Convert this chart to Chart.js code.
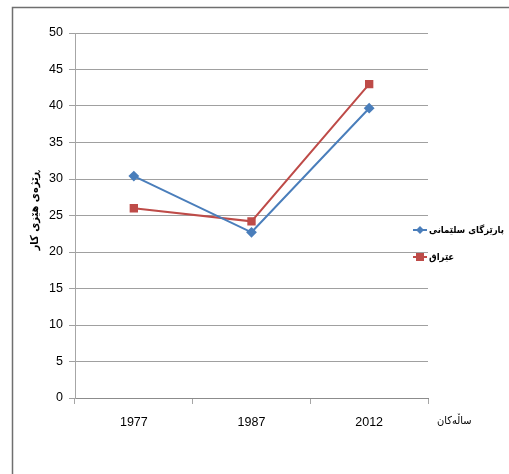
<!DOCTYPE html>
<html>
<head>
<meta charset="utf-8">
<script src="https://cdn.jsdelivr.net/npm/chart.js@4/dist/chart.umd.min.js"></script>
<style>
  html, body { margin: 0; padding: 0; background: #fff; }
  #wrap { width: 509px; height: 474px; }
</style>
</head>
<body>
<div id="wrap"><canvas id="chart"></canvas></div>
<script>
const years = ['1977', '1987', '2012'];
const sulaimaniValues = [30.4, 22.7, 39.7];
const iraqValues = [26.0, 24.2, 43.0];
const seriesNames = ['پارێزگای سلێمانی', 'عێراق'];
const yTitle = 'ڕێژەی هێزی کار';
const xTitle = 'ساڵەکان';

const arabicFont = "'DejaVu Sans Condensed', 'DejaVu Sans', sans-serif";
const tickFont = { family: "'Liberation Sans Narrow', 'Liberation Sans', sans-serif", size: 12.5 };

// frame, axis titles and legend
const extras = {
    id: 'extras',
    afterDraw(chart) {
        const ctx = chart.ctx;
        const area = chart.chartArea;
        ctx.save();
        ctx.strokeStyle = '#6f6f6f';
        ctx.lineWidth = 1.5;
        ctx.beginPath();
        ctx.moveTo(12.5, 474);
        ctx.lineTo(12.5, 7.5);
        ctx.lineTo(509, 7.5);
        ctx.stroke();

        ctx.fillStyle = '#000';
        ctx.font = 'bold 11px ' + arabicFont;
        ctx.textAlign = 'center';
        ctx.textBaseline = 'middle';
        ctx.translate(35, (area.top + area.bottom) / 2 - 5);
        ctx.rotate(-Math.PI / 2);
        ctx.fillText(yTitle, 0, 0);
        ctx.restore();

        ctx.save();
        ctx.fillStyle = '#000';
        ctx.font = '11px ' + arabicFont;
        ctx.textAlign = 'left';
        ctx.textBaseline = 'middle';
        ctx.fillText(xTitle, 437, 421);

        // legend: one font size for all labels, fitted to the longest
        let size = 11;
        const widest = () => Math.max(...chart.data.datasets.map(d => ctx.measureText(d.label).width));
        ctx.font = 'bold ' + size + 'px ' + arabicFont;
        while (widest() > 78 && size > 7) {
            size -= 0.5;
            ctx.font = 'bold ' + size + 'px ' + arabicFont;
        }
        chart.data.datasets.forEach((ds, i) => {
            const y = 230 + i * 27;
            ctx.strokeStyle = ds.borderColor;
            ctx.lineWidth = 2;
            ctx.beginPath();
            ctx.moveTo(413, y);
            ctx.lineTo(427, y);
            ctx.stroke();
            ctx.fillStyle = ds.borderColor;
            ctx.beginPath();
            if (ds.pointStyle === 'rect') {
                ctx.rect(416, y - 4, 8, 8);
            } else {
                ctx.moveTo(420, y - 4);
                ctx.lineTo(424, y);
                ctx.lineTo(420, y + 4);
                ctx.lineTo(416, y);
                ctx.closePath();
            }
            ctx.fill();
            ctx.fillStyle = '#000';
            ctx.textAlign = 'left';
            ctx.fillText(ds.label, 429, y + 1);
        });
        ctx.restore();
    }
};

new Chart(document.getElementById('chart'), {
    type: 'line',
    data: {
        labels: years,
        datasets: [
            {
                label: seriesNames[0],
                data: sulaimaniValues,
                borderColor: '#4a7ebb',
                backgroundColor: '#4a7ebb',
                borderWidth: 2,
                pointStyle: 'rectRot',
                pointRadius: 4,
                tension: 0
            },
            {
                label: seriesNames[1],
                data: iraqValues,
                borderColor: '#be4b48',
                backgroundColor: '#be4b48',
                borderWidth: 2,
                pointStyle: 'rect',
                pointRadius: 4.5,
                tension: 0
            }
        ]
    },
    options: {
        responsive: true,
        maintainAspectRatio: false,
        animation: false,
        layout: { padding: { left: 0, top: 33, right: 81, bottom: 36 } },
        plugins: { legend: { display: false }, tooltip: { enabled: false } },
        scales: {
            x: {
                offset: true,
                afterFit: s => { s.height = 40; },
                grid: {
                    offset: true,
                    drawOnChartArea: false,
                    drawTicks: true,
                    tickLength: 6,
                    color: '#a6a6a6'
                },
                border: { color: '#8c8c8c', width: 1 },
                ticks: { color: '#000', font: tickFont, padding: 11 }
            },
            y: {
                min: 0,
                max: 50,
                afterFit: s => { s.width = 75; },
                ticks: { stepSize: 5, color: '#000', font: tickFont, padding: 6 },
                grid: { color: '#a0a0a0', tickLength: 6, lineWidth: 1 },
                border: { color: '#a6a6a6', width: 1 }
            }
        }
    },
    plugins: [extras]
});
</script>
</body>
</html>
